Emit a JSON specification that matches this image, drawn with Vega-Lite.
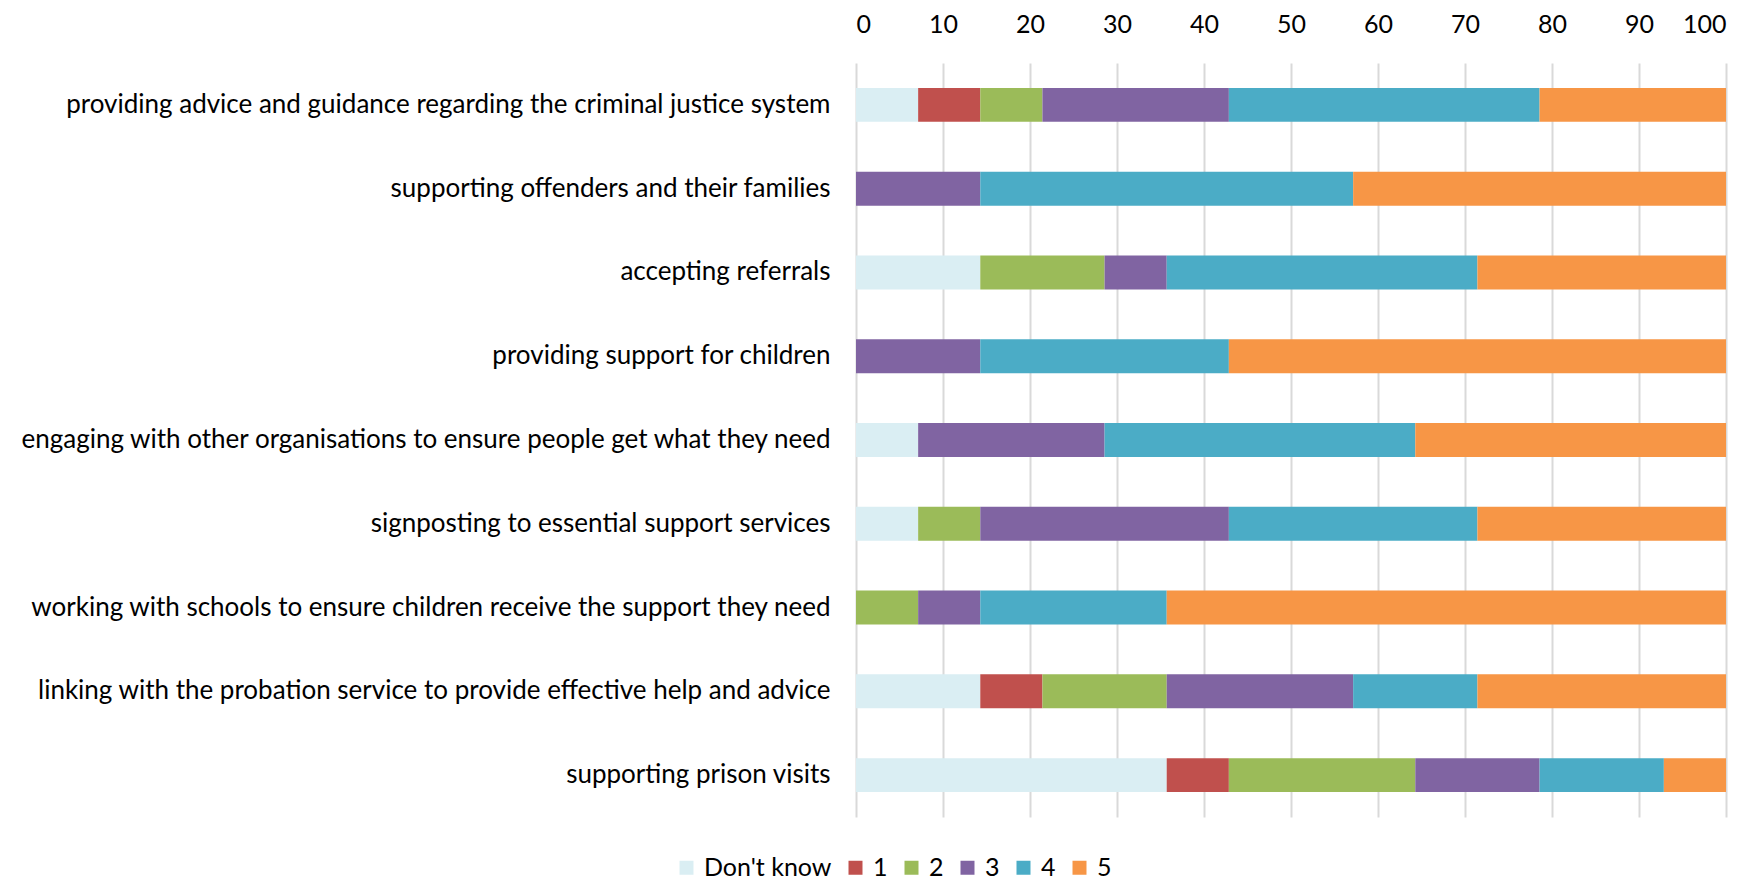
{
  "$schema": "https://vega.github.io/schema/vega-lite/v6.json",
  "width": 870,
  "height": 754,
  "autosize": {"type": "none"},
  "padding": {"left": 856, "top": 63, "right": 28, "bottom": 65},
  "background": "white",
  "config": {
    "font": "Lato",
    "view": {"stroke": null},
    "axis": {"labelFont": "Lato", "labelColor": "#000000"},
    "legend": {"labelFont": "Lato", "labelColor": "#000000"}
  },
  "data": {
    "values": [
      {"item": "providing advice and guidance regarding the criminal justice system", "rating": "Don't know", "rank": 0, "pct": 7.143},
      {"item": "providing advice and guidance regarding the criminal justice system", "rating": "1", "rank": 1, "pct": 7.143},
      {"item": "providing advice and guidance regarding the criminal justice system", "rating": "2", "rank": 2, "pct": 7.143},
      {"item": "providing advice and guidance regarding the criminal justice system", "rating": "3", "rank": 3, "pct": 21.429},
      {"item": "providing advice and guidance regarding the criminal justice system", "rating": "4", "rank": 4, "pct": 35.714},
      {"item": "providing advice and guidance regarding the criminal justice system", "rating": "5", "rank": 5, "pct": 21.428},
      {"item": "supporting offenders and their families", "rating": "3", "rank": 3, "pct": 14.286},
      {"item": "supporting offenders and their families", "rating": "4", "rank": 4, "pct": 42.857},
      {"item": "supporting offenders and their families", "rating": "5", "rank": 5, "pct": 42.857},
      {"item": "accepting referrals ", "rating": "Don't know", "rank": 0, "pct": 14.286},
      {"item": "accepting referrals ", "rating": "2", "rank": 2, "pct": 14.286},
      {"item": "accepting referrals ", "rating": "3", "rank": 3, "pct": 7.143},
      {"item": "accepting referrals ", "rating": "4", "rank": 4, "pct": 35.714},
      {"item": "accepting referrals ", "rating": "5", "rank": 5, "pct": 28.571},
      {"item": "providing support for children", "rating": "3", "rank": 3, "pct": 14.286},
      {"item": "providing support for children", "rating": "4", "rank": 4, "pct": 28.571},
      {"item": "providing support for children", "rating": "5", "rank": 5, "pct": 57.143},
      {"item": "engaging with other organisations to ensure people get what they need", "rating": "Don't know", "rank": 0, "pct": 7.143},
      {"item": "engaging with other organisations to ensure people get what they need", "rating": "3", "rank": 3, "pct": 21.429},
      {"item": "engaging with other organisations to ensure people get what they need", "rating": "4", "rank": 4, "pct": 35.714},
      {"item": "engaging with other organisations to ensure people get what they need", "rating": "5", "rank": 5, "pct": 35.714},
      {"item": "signposting to essential support services", "rating": "Don't know", "rank": 0, "pct": 7.143},
      {"item": "signposting to essential support services", "rating": "2", "rank": 2, "pct": 7.143},
      {"item": "signposting to essential support services", "rating": "3", "rank": 3, "pct": 28.571},
      {"item": "signposting to essential support services", "rating": "4", "rank": 4, "pct": 28.571},
      {"item": "signposting to essential support services", "rating": "5", "rank": 5, "pct": 28.572},
      {"item": "working with schools to ensure children receive the support they need", "rating": "2", "rank": 2, "pct": 7.143},
      {"item": "working with schools to ensure children receive the support they need", "rating": "3", "rank": 3, "pct": 7.143},
      {"item": "working with schools to ensure children receive the support they need", "rating": "4", "rank": 4, "pct": 21.428},
      {"item": "working with schools to ensure children receive the support they need", "rating": "5", "rank": 5, "pct": 64.286},
      {"item": "linking with the probation service to provide effective help and advice", "rating": "Don't know", "rank": 0, "pct": 14.286},
      {"item": "linking with the probation service to provide effective help and advice", "rating": "1", "rank": 1, "pct": 7.143},
      {"item": "linking with the probation service to provide effective help and advice", "rating": "2", "rank": 2, "pct": 14.286},
      {"item": "linking with the probation service to provide effective help and advice", "rating": "3", "rank": 3, "pct": 21.428},
      {"item": "linking with the probation service to provide effective help and advice", "rating": "4", "rank": 4, "pct": 14.286},
      {"item": "linking with the probation service to provide effective help and advice", "rating": "5", "rank": 5, "pct": 28.571},
      {"item": "supporting prison visits", "rating": "Don't know", "rank": 0, "pct": 35.714},
      {"item": "supporting prison visits", "rating": "1", "rank": 1, "pct": 7.143},
      {"item": "supporting prison visits", "rating": "2", "rank": 2, "pct": 21.429},
      {"item": "supporting prison visits", "rating": "3", "rank": 3, "pct": 14.286},
      {"item": "supporting prison visits", "rating": "4", "rank": 4, "pct": 14.285},
      {"item": "supporting prison visits", "rating": "5", "rank": 5, "pct": 7.143}
    ]
  },
  "mark": {"type": "bar"},
  "encoding": {
    "y": {
      "field": "item",
      "type": "nominal",
      "sort": null,
      "scale": {"paddingInner": 0.595, "paddingOuter": 0.2975},
      "axis": {
        "title": null,
        "domain": false,
        "ticks": false,
        "labelFontSize": 26,
        "labelPadding": 26,
        "labelLimit": 1000
      }
    },
    "x": {
      "field": "pct",
      "type": "quantitative",
      "stack": "zero",
      "scale": {"domain": [0, 100], "nice": false},
      "axis": {
        "orient": "top",
        "title": null,
        "domain": false,
        "ticks": false,
        "values": [0, 10, 20, 30, 40, 50, 60, 70, 80, 90, 100],
        "labelOverlap": false,
        "labelFontSize": 25,
        "labelPadding": 26,
        "grid": true,
        "gridColor": "#D9D9D9",
        "gridWidth": 2
      }
    },
    "color": {
      "field": "rating",
      "type": "nominal",
      "scale": {
        "domain": ["Don't know", "1", "2", "3", "4", "5"],
        "range": ["#DAEEF3", "#C0504D", "#9BBB59", "#8064A2", "#4BACC6", "#F79646"]
      },
      "legend": {
        "title": null,
        "orient": "none",
        "direction": "horizontal",
        "legendX": -182,
        "legendY": 792,
        "symbolType": "square",
        "symbolSize": 196,
        "symbolStrokeWidth": 0,
        "labelFontSize": 25,
        "labelOffset": 5,
        "columnPadding": 11
      }
    },
    "order": {"field": "rank", "type": "quantitative"}
  }
}
